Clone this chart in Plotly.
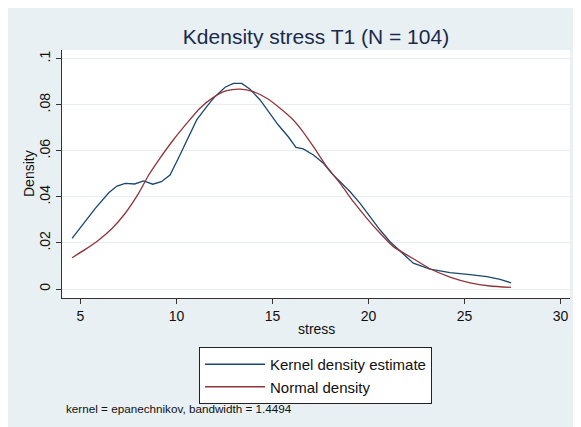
import plotly.graph_objects as go

# Kernel density estimate
kd_x = [4.56, 5.08, 5.77, 6.47, 6.90, 7.33, 7.82, 8.29, 8.76, 9.21, 9.66, 10.09,
        10.53, 11.05, 11.57, 12.00, 12.53, 12.96, 13.40, 13.83, 14.35, 14.87, 15.30,
        15.82, 16.22, 16.60, 17.13, 17.65, 18.08, 18.52, 19.04, 19.56, 20.08, 20.60,
        21.12, 21.64, 22.33, 23.20, 24.24, 25.29, 26.16, 26.85, 27.42]
kd_y = [0.0220, 0.0278, 0.0350, 0.0418, 0.0447, 0.0459, 0.0456, 0.0469, 0.0455,
        0.0466, 0.0495, 0.0567, 0.0647, 0.0734, 0.0792, 0.0835, 0.0876, 0.0893,
        0.0893, 0.0867, 0.0821, 0.0763, 0.0712, 0.0661, 0.0615, 0.0608, 0.0582,
        0.0546, 0.0502, 0.0466, 0.0422, 0.0372, 0.0314, 0.0256, 0.0205, 0.0165,
        0.0112, 0.0086, 0.0071, 0.0062, 0.0054, 0.0042, 0.0027]

# Normal density
nd_x = [4.56, 5.25, 5.95, 6.64, 7.33, 8.03, 8.55, 9.07, 9.83, 10.53, 11.22, 11.92,
        12.61, 13.31, 14.00, 14.70, 15.39, 16.08, 16.52, 17.13, 17.82, 18.52, 19.21,
        19.91, 20.60, 21.29, 21.99, 22.68, 23.20, 24.24, 25.29, 26.33, 27.42]
nd_y = [0.0136, 0.0172, 0.0213, 0.0263, 0.0329, 0.0416, 0.0495, 0.0560, 0.0647,
        0.0719, 0.0785, 0.0832, 0.0861, 0.0868, 0.0857, 0.0828, 0.0785, 0.0734,
        0.0690, 0.0618, 0.0531, 0.0459, 0.0379, 0.0307, 0.0242, 0.0184, 0.0148,
        0.0114, 0.0088, 0.0052, 0.0027, 0.0013, 0.0007]

x_ticks = [5, 10, 15, 20, 25, 30]
y_ticks = [0, 0.02, 0.04, 0.06, 0.08, 0.1]
y_tick_labels = ["0", ".02", ".04", ".06", ".08", ".1"]

BG = "#e8f0f3"
BLUE = "#1a476f"
RED = "#90353b"
FONT = "Liberation Sans, Arial, sans-serif"

fig = go.Figure()
fig.add_trace(go.Scatter(x=kd_x, y=kd_y, mode="lines", name="Kernel density estimate",
                         line=dict(color=BLUE, width=1.3)))
fig.add_trace(go.Scatter(x=nd_x, y=nd_y, mode="lines", name="Normal density",
                         line=dict(color=RED, width=1.3, shape="spline", smoothing=0.6)))

# page offset of the figure (default HTML body margin)
OX, OY = 8, 8
W, H = 581 - OX, 427 - OY
# plot area in page pixels
L, R, T, B = 62 - OX, 570 - OX, 50 - OY, 298 - OY
pw, ph = R - L, B - T

def px(xp):
    return (xp - OX - L) / pw

def py(yp):
    return (B - (yp - OY)) / ph

fig.update_layout(
    width=W, height=H,
    margin=dict(l=L, r=W - R, t=T, b=H - B, autoexpand=False),
    paper_bgcolor=BG,
    plot_bgcolor="white",
    font=dict(family=FONT, color="#222222", size=14),
    title=dict(text="Kdensity stress T1 (N = 104)", x=(316 - OX) / W, xanchor="center",
               y=1 - (37 - OY) / H, yanchor="middle", automargin=False,
               font=dict(size=21, color="#1a2a4a", family=FONT)),
    showlegend=True,
    legend=dict(x=px(199), y=py(347), xanchor="left", yanchor="top",
                bgcolor="white", bordercolor="#222222", borderwidth=1,
                itemwidth=60, font=dict(size=15, color="#111111"),
                tracegroupgap=0),
    annotations=[
        dict(text="stress", xref="paper", yref="paper", x=px(316),
             y=py(329), xanchor="center", yanchor="middle", showarrow=False,
             font=dict(size=14, color="#111111")),
        dict(text="Density", xref="paper", yref="paper", x=px(29), y=0.5,
             xanchor="center", yanchor="middle", textangle=-90, showarrow=False,
             font=dict(size=14, color="#111111")),
        dict(text="kernel = epanechnikov, bandwidth = 1.4494", xref="paper", yref="paper",
             x=px(64), y=py(408), xanchor="left", yanchor="middle", showarrow=False,
             font=dict(size=11.7, color="#111111")),
    ],
)

fig.update_xaxes(range=[4.036, 30.49], tickvals=x_ticks, ticks="outside", ticklen=5,
                 tickcolor="#333333", showline=True, linecolor="#333333", linewidth=1,
                 showgrid=False, zeroline=False, automargin=False,
                 tickfont=dict(size=14, color="#111111"))
fig.update_yaxes(range=[-0.00391, 0.10378], tickvals=y_ticks, ticktext=y_tick_labels,
                 tickangle=-90, ticks="outside", ticklen=5, tickcolor="#333333",
                 showline=True, linecolor="#333333", linewidth=1, automargin=False,
                 showgrid=True, gridcolor="#e6eef1", gridwidth=1.2, zeroline=False,
                 tickfont=dict(size=14, color="#111111"))

fig.write_html("out.html")
